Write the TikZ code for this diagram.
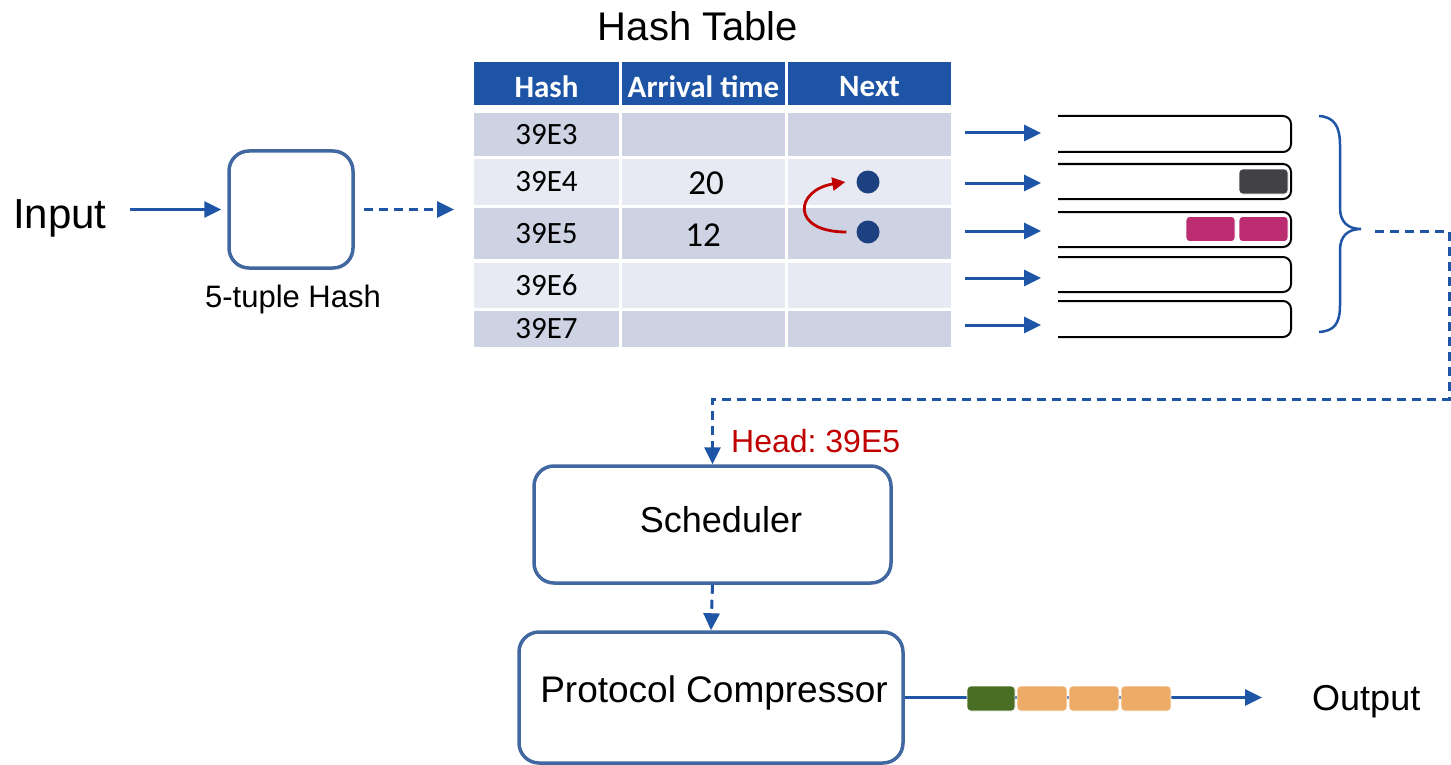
\documentclass[tikz,border=0pt]{standalone}
\usepackage{fontspec}
\setmainfont{Liberation Sans}
\newfontfamily\tabfont{Carlito}
\usetikzlibrary{arrows.meta}
\frenchspacing

\definecolor{linkblue}{RGB}{31,85,166}
\definecolor{boxblue}{RGB}{65,104,160}
\definecolor{headblue}{RGB}{29,84,165}
\definecolor{rowdark}{RGB}{205,211,227}
\definecolor{rowlight}{RGB}{231,234,242}
\definecolor{dotblue}{RGB}{28,64,128}
\definecolor{linkred}{RGB}{192,0,0}
\definecolor{pktgray}{RGB}{66,66,70}
\definecolor{pktpink}{RGB}{187,44,113}
\definecolor{pktgreen}{RGB}{74,110,36}
\definecolor{pktorange}{RGB}{237,171,104}

\tikzset{
  fs/.style={font=\fontsize{#1}{#1}\selectfont},
  tfs/.style={font=\tabfont\fontsize{#1}{#1}\selectfont},
  hfs/.style={font=\tabfont\bfseries\fontsize{#1}{#1}\selectfont, text=white},
  arr/.style={draw=linkblue, line width=3pt, -{Triangle[length=17pt,width=16pt]}},
  dasharr/.style={arr, dash pattern=on 9pt off 6pt},
  box/.style={draw=boxblue, line width=3.5pt, rounded corners=20pt, inner sep=0pt},
  cell/.style args={#1/#2}{inner sep=0pt, outer sep=0pt, minimum width=#1pt, minimum height=#2pt},
  queue/.style={draw=black, line width=2pt, rounded corners=8pt},
  pkt/.style={draw=white, line width=0.8pt, rounded corners=3.5pt, inner sep=0pt, minimum height=25pt},
  dot/.style={circle, fill=dotblue, inner sep=0pt, minimum size=23pt},
}

\begin{document}
\begin{tikzpicture}[x=1pt, y=-1pt]
  \useasboundingbox (0,0) rectangle (1451,765);

  % input and hash unit
  \node[fs=42, anchor=base west, inner sep=0pt] (inp) at (13,228) {Input};
  \node[box, minimum width=124pt, minimum height=117pt] (hbox) at (291,209.5) {};
  \node[fs=31, anchor=base] (hlabel) at (293,307) {5-tuple Hash};
  \coordinate (inarr) at (130,209.5);
  \draw[arr] (inarr) -- ([xshift=-6pt]hbox.west);
  \coordinate (tin) at (454,209.5);
  \draw[dasharr] ([xshift=9pt]hbox.east) -- (tin);

  % hash table: header
  \node[fs=40, anchor=base] (title) at (698,41) {Hash Table};

  \node[cell=145/43, fill=headblue] (c00) at (546.5,83.5) {};
  \node[cell=163/43, fill=headblue] (c01) at (703.5,83.5) {};
  \node[cell=163/43, fill=headblue] (c02) at (869.5,83.5) {};
  \node[hfs=31, inner sep=0pt] (t00) at (546.5,86.5) {Hash};
  \node[hfs=31, inner sep=0pt] (t01) at (703.5,86.5) {Arrival time};
  \node[hfs=31, inner sep=0pt] (t02) at (869.5,86.5) {Next};

  % hash table: rows
  \node[cell=145/43, fill=rowdark, tfs=31] (c10) at (546.5,134.5) {39E3};
  \node[cell=163/43, fill=rowdark] (c11) at (703.5,134.5) {};
  \node[cell=163/43, fill=rowdark] (c12) at (869.5,134.5) {};

  \node[cell=145/46, fill=rowlight, tfs=31] (c20) at (546.5,182) {39E4};
  \node[cell=163/46, fill=rowlight] (c21) at (703.5,182) {};
  \node[cell=163/46, fill=rowlight] (c22) at (869.5,182) {};

  \node[cell=145/51, fill=rowdark, tfs=31] (c30) at (546.5,233.5) {39E5};
  \node[cell=163/51, fill=rowdark] (c31) at (703.5,233.5) {};
  \node[cell=163/51, fill=rowdark] (c32) at (869.5,233.5) {};

  \node[cell=145/45, fill=rowlight, tfs=31] (c40) at (546.5,285.5) {39E6};
  \node[cell=163/45, fill=rowlight] (c41) at (703.5,285.5) {};
  \node[cell=163/45, fill=rowlight] (c42) at (869.5,285.5) {};

  \node[cell=145/36, fill=rowdark, tfs=31] (c50) at (546.5,329) {39E7};
  \node[cell=163/36, fill=rowdark] (c51) at (703.5,329) {};
  \node[cell=163/36, fill=rowdark] (c52) at (869.5,329) {};

  \node[tfs=35, inner sep=0pt] (t21) at (706,183) {20};
  \node[tfs=35, inner sep=0pt] (t31) at (703,235) {12};

  % next pointers
  \node[dot] (d1) at (868,182) {};
  \node[dot] (d2) at (868,232) {};
  \draw[linkred, line width=2.8pt, -{Triangle[length=13pt,width=13pt]}]
    ([xshift=-10pt]d2.west) .. controls (790,232) and (795,190) .. ([xshift=-11pt]d1.west);

  % per-bucket queues
  \foreach \i/\y in {1/133,2/183,3/231,4/278,5/325} {
    \coordinate (s\i) at (965,\y);
    \coordinate (e\i) at (1041,\y);
    \draw[arr] (s\i) -- (e\i);
  }
  \foreach \t/\b in {116/152,164/199,212/247,257/292,301/337} {
    \draw[queue] (1058,\t) -- (1291,\t) -- (1291,\b) -- (1058,\b);
  }
  \node[pkt, fill=pktgray, minimum width=49pt] (g1) at (1263.5,181.5) {};
  \node[pkt, fill=pktpink, minimum width=49pt] (m1) at (1210.5,229) {};
  \node[pkt, fill=pktpink, minimum width=49pt] (m2) at (1263.5,229) {};

  % brace over the queues
  \coordinate (bt) at (1361,229);
  \draw[linkblue, line width=2.5pt]
    (1319,116) .. controls (1334,117) and (1340,126) .. (1340,145)
    -- (1340,208) .. controls (1340,222) and (1348,229) .. (bt)
    .. controls (1348,229) and (1340,236) .. (1340,250)
    -- (1340,305) .. controls (1340,324) and (1334,331) .. (1319,332);

  % scheduler and compressor
  \node[box, minimum width=357pt, minimum height=117pt] (sched) at (712.5,524.5) {};
  \node[fs=36] (schedtxt) at (721,520) {Scheduler};
  \node[box, minimum width=384pt, minimum height=131pt] (comp) at (711,697.5) {};
  \node[fs=37] (comptxt) at (714,693) {Protocol Compressor};
  \node[fs=32, text=linkred, anchor=base west, inner sep=0pt] (head) at (731,452) {Head: 39E5};

  \coordinate (ds) at (1375,231);
  \draw[dasharr] (ds) -| (1449,399) -| (sched.north);
  \draw[dasharr] (sched.south) -- (comp.north);

  % output stream
  \node[fs=36, anchor=west, inner sep=0pt] (out) at (1312,702) {Output};
  \coordinate (oe) at (1262,697.5);
  \draw[arr] (comp.east) -- (oe);
  \node[pkt, fill=pktgreen, minimum width=48pt] (o1) at (991,698.5) {};
  \node[pkt, fill=pktorange, minimum width=50pt] (o2) at (1042,698.5) {};
  \node[pkt, fill=pktorange, minimum width=50pt] (o3) at (1094,698.5) {};
  \node[pkt, fill=pktorange, minimum width=50pt] (o4) at (1146,698.5) {};
\end{tikzpicture}
\end{document}
